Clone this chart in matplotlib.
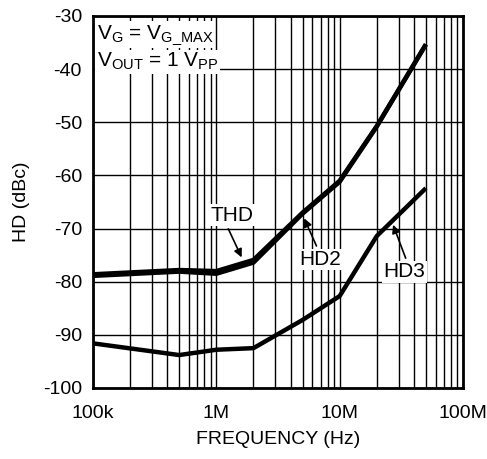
import numpy as np
import matplotlib
matplotlib.use("Agg")
import matplotlib.pyplot as plt
from matplotlib.ticker import FixedLocator, LogLocator, NullFormatter

plt.rcParams['font.family'] = ['Liberation Sans', 'DejaVu Sans']
plt.rcParams['mathtext.fontset'] = 'custom'
plt.rcParams['mathtext.rm'] = 'Liberation Sans'
plt.rcParams['mathtext.it'] = 'Liberation Sans'
plt.rcParams['axes.unicode_minus'] = False

# data
freq = [1e5, 5e5, 1e6, 2e6, 5e6, 1e7, 2e7, 5e7]
thd = [-78.6, -77.8, -78.0, -75.9, -67.0, -61.0, -50.7, -35.3]
hd2 = [-78.9, -78.1, -78.5, -76.4, -67.2, -61.2, -50.8, -35.4]
hd3 = [-91.6, -93.8, -92.8, -92.5, -87.2, -82.7, -71.4, -62.4]

y_ticks = [-30, -40, -50, -60, -70, -80, -90, -100]
x_ticks = [1e5, 1e6, 1e7, 1e8]
x_labels = ['100k', '1M', '10M', '100M']

fig = plt.figure(figsize=(4.87, 4.59), dpi=100)
ax = fig.add_axes([93 / 487, 1 - 388 / 459, 370 / 487, 372 / 459])

ax.set_xscale('log')
ax.set_xlim(1e5, 1e8)
ax.set_ylim(-100, -30)

ax.plot(freq, hd2, color='black', lw=3.2, solid_capstyle='butt', zorder=3)
ax.plot(freq, thd, color='black', lw=3.2, solid_capstyle='butt', zorder=3)
ax.plot(freq, hd3, color='black', lw=3.2, solid_capstyle='butt', zorder=3)

ax.xaxis.set_major_locator(FixedLocator(x_ticks))
ax.set_xticklabels(x_labels)
ax.xaxis.set_minor_locator(LogLocator(base=10, subs=np.arange(2, 10)))
ax.xaxis.set_minor_formatter(NullFormatter())
ax.set_yticks(y_ticks)
ax.grid(True, which='both', color='black', lw=1.0)
ax.tick_params(which='both', length=0, labelsize=14)
ax.tick_params(axis='x', pad=12)
ax.tick_params(axis='y', pad=8)
for s in ax.spines.values():
    s.set_linewidth(2)

ax.set_xlabel('FREQUENCY (Hz)', fontsize=14, labelpad=7)
ax.set_ylabel('HD (dBc)', fontsize=14, labelpad=9)

box = dict(facecolor='white', edgecolor='none', pad=1)
ax.text(1.07e5, -31.3, r'V$_\mathrm{G}$ = V$_\mathrm{G\_MAX}$', fontsize=15,
        va='top', ha='left', bbox=box, zorder=4)
ax.text(1.07e5, -36.6, r'V$_\mathrm{OUT}$ = 1 V$_\mathrm{PP}$', fontsize=15,
        va='top', ha='left', bbox=box, zorder=4)

arrow = dict(arrowstyle='-|>', color='black', lw=1.2, mutation_scale=12)
ax.annotate('THD', xy=(1.64e6, -75.9), xytext=(8.9e5, -69.3), fontsize=15,
            ha='left', va='bottom', bbox=box, zorder=4,
            arrowprops=dict(arrow, relpos=(0.38, 0)))
ax.annotate('HD2', xy=(5.05e6, -67.6), xytext=(4.72e6, -77.6), fontsize=15,
            ha='left', va='bottom', bbox=box, zorder=4,
            arrowprops=dict(arrow, relpos=(0.45, 1)))
ax.annotate('HD3', xy=(2.66e7, -68.8), xytext=(2.26e7, -79.9), fontsize=15,
            ha='left', va='bottom', bbox=box, zorder=4,
            arrowprops=dict(arrow, relpos=(0.57, 1)))

fig.savefig('out.png', dpi=100)
